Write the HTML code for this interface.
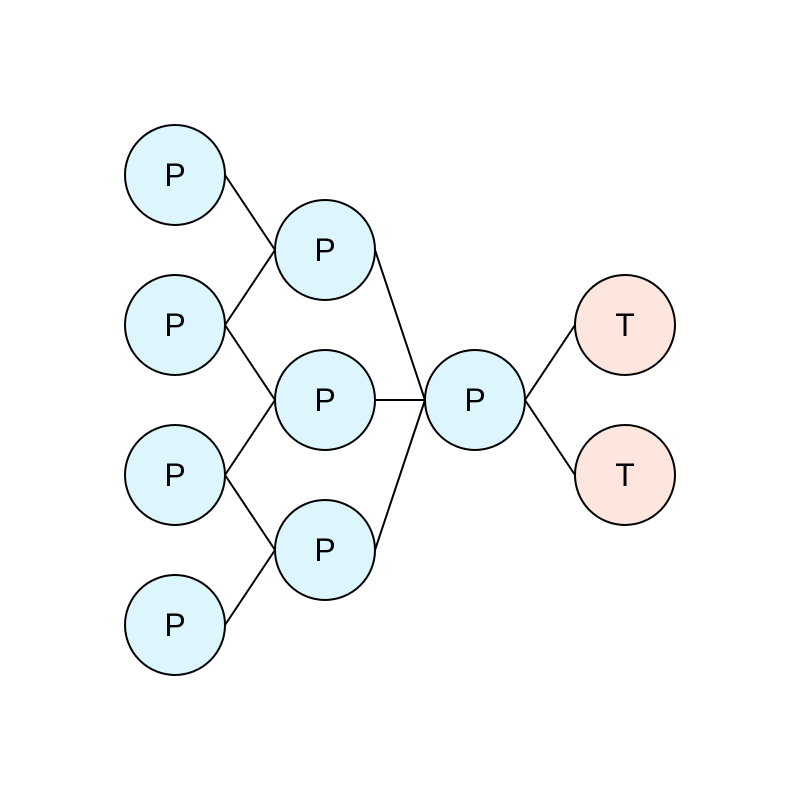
<!DOCTYPE html>
<html><head><meta charset="utf-8"><style>
html,body{margin:0;padding:0;background:#fff;}
svg{display:block;}
text{font-family:"Liberation Sans",sans-serif;font-size:32px;}
</style></head><body>
<svg id="chart" width="800" height="800" viewBox="0 0 800 800"></svg>
<script>
const nodeLabels = ["P","P","P","P","P","P","P","P","T","T"];
const nodeLayers = [0,0,0,0,1,1,1,2,3,3];
const nodeRows = [0,1,2,3,0.5,1.5,2.5,1.5,1,2];
const edgeFrom = [0,1,1,2,2,3,4,5,6,7,7];
const edgeTo   = [4,4,5,5,6,6,7,7,7,8,9];
const R = 50;
function xPos(layer){return 175 + layer*150;}
function yPos(row){return 175 + row*150;}
const svg = document.getElementById('chart');
const NS = 'http://www.w3.org/2000/svg';
for (let i=0;i<edgeFrom.length;i++){
  const a=edgeFrom[i], b=edgeTo[i];
  const l=document.createElementNS(NS,'line');
  l.setAttribute('x1',xPos(nodeLayers[a])+R);
  l.setAttribute('y1',yPos(nodeRows[a]));
  l.setAttribute('x2',xPos(nodeLayers[b])-R);
  l.setAttribute('y2',yPos(nodeRows[b]));
  l.setAttribute('stroke','#000');
  l.setAttribute('stroke-width','2');
  
  
  svg.appendChild(l);
}
for (let i=0;i<nodeLabels.length;i++){
  const cx=xPos(nodeLayers[i]), cy=yPos(nodeRows[i]);
  const g=document.createElementNS(NS,'g');
  
  
  const c=document.createElementNS(NS,'circle');
  c.setAttribute('cx',cx);c.setAttribute('cy',cy);c.setAttribute('r',R);
  c.setAttribute('fill',nodeLabels[i]==='T'?'#fde6de':'#ddf5fd');
  c.setAttribute('stroke','#000');c.setAttribute('stroke-width','2');
  
  
  const t=document.createElementNS(NS,'text');
  t.setAttribute('x',cx);t.setAttribute('y',cy+11);
  t.setAttribute('text-anchor','middle');
  t.textContent=nodeLabels[i];
  
  
  g.appendChild(c);g.appendChild(t);svg.appendChild(g);
}
</script>
</body></html>
